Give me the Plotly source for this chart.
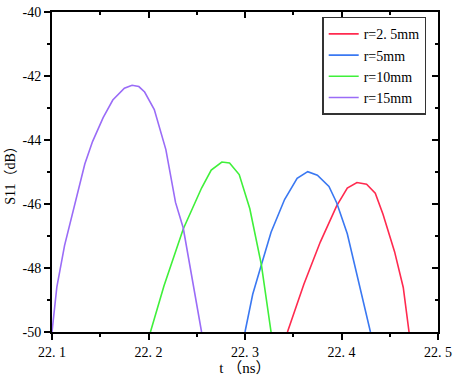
import plotly.graph_objects as go

# ---- data ----
t_r25 = [22.344, 22.361, 22.378, 22.395, 22.406, 22.416, 22.426, 22.435, 22.443, 22.455, 22.464, 22.470]
s_r25 = [-50.0, -48.51, -47.19, -46.06, -45.5, -45.33, -45.38, -45.66, -46.32, -47.49, -48.61, -50.0]

t_r5 = [22.300, 22.308, 22.317, 22.327, 22.341, 22.354, 22.365, 22.375, 22.387, 22.395, 22.406, 22.413, 22.421, 22.430]
s_r5 = [-50.0, -48.82, -47.9, -46.88, -45.86, -45.2, -44.99, -45.1, -45.45, -45.96, -46.93, -47.8, -48.82, -50.0]

t_r10 = [22.202, 22.216, 22.236, 22.255, 22.265, 22.276, 22.284, 22.294, 22.305, 22.317, 22.327]
s_r10 = [-50.0, -48.56, -46.78, -45.5, -44.94, -44.69, -44.72, -45.08, -46.15, -47.9, -50.0]

t_r15 = [22.100, 22.105, 22.113, 22.124, 22.134, 22.142, 22.153, 22.163, 22.175, 22.183, 22.190,
         22.196, 22.206, 22.218, 22.228, 22.236, 22.246, 22.255]
s_r15 = [-50.0, -48.6, -47.3, -45.95, -44.75, -44.05, -43.3, -42.75, -42.38, -42.29, -42.33,
         -42.5, -43.05, -44.3, -45.95, -46.75, -48.4, -50.0]

series_names = ["r=2. 5mm", "r=5mm", "r=10mm", "r=15mm"]
series_colors = ["#ff2a4f", "#3a78f2", "#3ff03a", "#9a6cf7"]

x_ticks = [22.1, 22.2, 22.3, 22.4, 22.5]
x_ticklabels = ["22. 1", "22. 2", "22. 3", "22. 4", "22. 5"]
y_ticks = [-50, -48, -46, -44, -42, -40]
y_ticklabels = ["-50", "-48", "-46", "-44", "-42", "-40"]

FONT = "Liberation Serif, Noto Sans CJK SC, serif"

fig = go.Figure()
for tx, sy, name, col in zip([t_r25, t_r5, t_r10, t_r15], [s_r25, s_r5, s_r10, s_r15],
                             series_names, series_colors):
    fig.add_trace(go.Scatter(x=tx, y=sy, mode="lines", name=name,
                             line=dict(color=col, width=1.6)))

# dummy trace to activate mirrored axes (top/right with inside ticks)
fig.add_trace(go.Scatter(x=[None], y=[None], xaxis="x2", yaxis="y2",
                         showlegend=False, hoverinfo="skip"))

xr = [22.1, 22.5]
yr = [-50, -40]

common = dict(showgrid=False, zeroline=False, showline=True, linecolor="black", linewidth=2)

fig.update_layout(
    width=457, height=383,
    margin=dict(l=52, r=15, t=5, b=51),
    paper_bgcolor="white", plot_bgcolor="white",
    font=dict(family=FONT, size=14, color="black"),
    xaxis=dict(range=xr, tickvals=x_ticks, ticktext=x_ticklabels, ticks="outside",
               ticklen=6, tickwidth=1.5, tickcolor="black", ticklabeloverflow="allow",
               minor=dict(dtick=0.05, ticks="outside", ticklen=3, tickwidth=1.5, tickcolor="black"),
               title=dict(text="t （ns）", standoff=4, font=dict(size=15)),
               tickfont=dict(size=14), **common),
    yaxis=dict(range=yr, tickvals=y_ticks, ticktext=y_ticklabels, ticks="outside",
               ticklen=6, tickwidth=1.5, tickcolor="black", ticklabeloverflow="allow",
               minor=dict(dtick=1, ticks="outside", ticklen=3, tickwidth=1.5, tickcolor="black"),
               title=dict(text="S11（dB）", standoff=4, font=dict(size=14)),
               tickfont=dict(size=14), **common),
    xaxis2=dict(range=xr, overlaying="x", side="top", tickvals=x_ticks, showticklabels=False,
                ticks="inside", ticklen=6, tickwidth=1.5, tickcolor="black",
                minor=dict(dtick=0.05, ticks="inside", ticklen=3, tickwidth=1.5, tickcolor="black"),
                **common),
    yaxis2=dict(range=yr, overlaying="y", side="right", tickvals=y_ticks, showticklabels=False,
                ticks="inside", ticklen=6, tickwidth=1.5, tickcolor="black",
                minor=dict(dtick=1, ticks="inside", ticklen=3, tickwidth=1.5, tickcolor="black"),
                **common),
    legend=dict(x=0.70, y=0.985, xanchor="left", yanchor="top",
                bgcolor="white", bordercolor="#333333", borderwidth=1.5,
                font=dict(family=FONT, size=14), tracegroupgap=0,
                itemwidth=30),
    showlegend=True,
)

fig.write_html("out.html", config={"displayModeBar": False},
               post_script="document.body.style.margin='0';document.body.style.padding='0';")
